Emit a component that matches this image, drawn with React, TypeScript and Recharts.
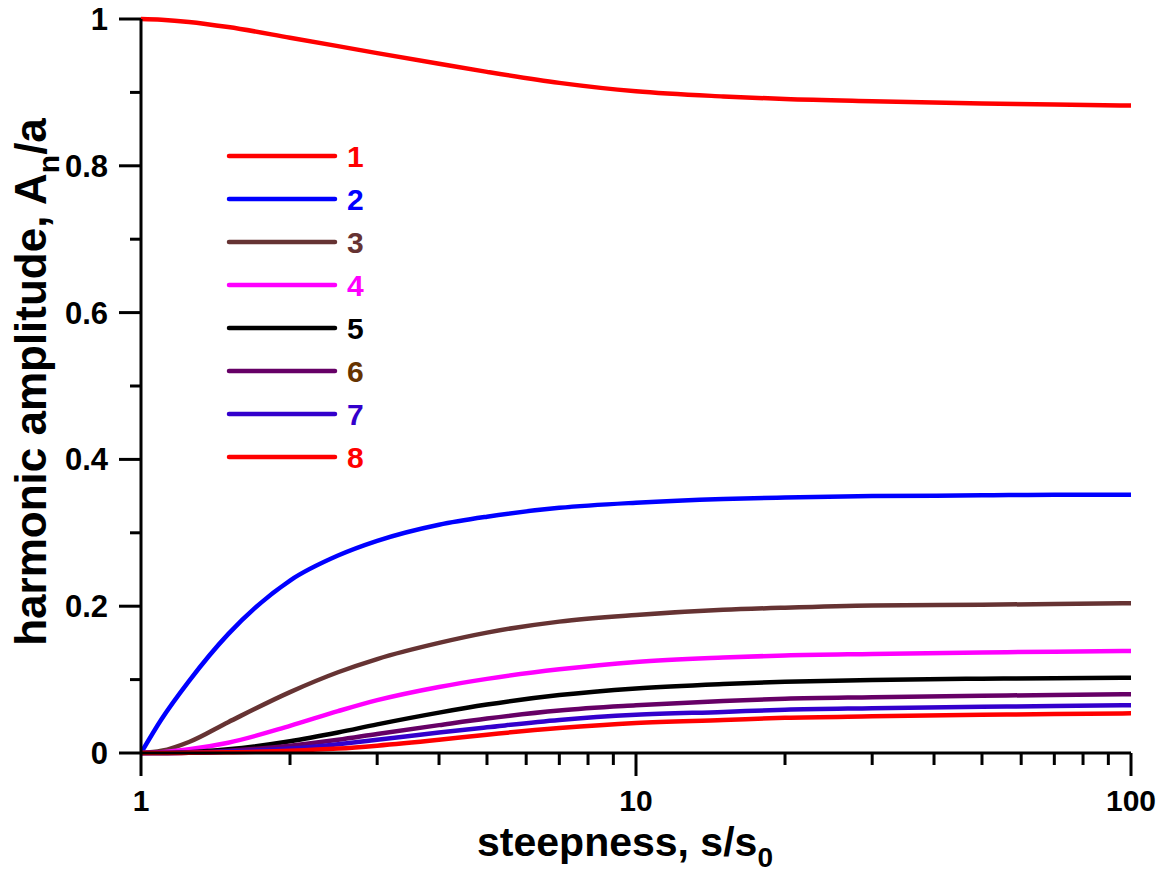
import { LineChart, Line, XAxis, YAxis, Legend, Label } from 'recharts';

if (typeof document !== 'undefined') document.body.style.margin = '0';

const FONT = '"Liberation Sans", Arial, sans-serif';

const steepness = [1, 1.1, 1.25, 1.5, 2, 2.5, 3, 4, 5, 7, 10, 15, 20, 30, 50, 70, 100];

const harmonic1 = [1.0, 0.999, 0.996, 0.989, 0.9745, 0.963, 0.9535, 0.939, 0.928, 0.913, 0.9015, 0.8945, 0.891, 0.888, 0.885, 0.8835, 0.882];
const harmonic2 = [0, 0.046, 0.098, 0.162, 0.235, 0.269, 0.289, 0.311, 0.322, 0.334, 0.341, 0.346, 0.348, 0.35, 0.351, 0.352, 0.352];
const harmonic3 = [0, 0.003, 0.015, 0.042, 0.083, 0.11, 0.128, 0.15, 0.164, 0.179, 0.188, 0.195, 0.198, 0.201, 0.202, 0.203, 0.204];
const harmonic4 = [0, 0.001, 0.005, 0.014, 0.037, 0.057, 0.072, 0.09, 0.101, 0.114, 0.124, 0.13, 0.133, 0.135, 0.137, 0.138, 0.139];
const harmonic5 = [0, 0, 0.001, 0.005, 0.016, 0.028, 0.039, 0.055, 0.066, 0.079, 0.088, 0.094, 0.097, 0.0995, 0.1012, 0.102, 0.1026];
const harmonic6 = [0, 0, 0.0005, 0.003, 0.01, 0.018, 0.026, 0.038, 0.047, 0.058, 0.065, 0.071, 0.074, 0.076, 0.078, 0.079, 0.08];
const harmonic7 = [0, 0, 0.0003, 0.002, 0.006, 0.012, 0.018, 0.028, 0.035, 0.045, 0.052, 0.056, 0.059, 0.061, 0.063, 0.064, 0.065];
const harmonic8 = [0, 0, 0.0002, 0.001, 0.003, 0.006, 0.01, 0.018, 0.025, 0.034, 0.041, 0.045, 0.048, 0.05, 0.052, 0.053, 0.054];

const seriesNames = ['1', '2', '3', '4', '5', '6', '7', '8'];
const lineColors = ['#ff0000', '#0000ff', '#663333', '#ff00ff', '#000000', '#660066', '#3300cc', '#ff0000'];
const labelColors = ['#ff0000', '#0000ff', '#663333', '#ff00ff', '#000000', '#663300', '#3300cc', '#ff0000'];

const xTicks = [1, 2, 3, 4, 5, 6, 7, 8, 9, 10, 20, 30, 40, 50, 60, 70, 80, 90, 100];
const xMajor = [1, 10, 100];
const yTicks = [0, 0.1, 0.2, 0.3, 0.4, 0.5, 0.6, 0.7, 0.8, 0.9, 1];
const yMajorLabels: Record<string, string> = { '0': '0', '0.2': '0.2', '0.4': '0.4', '0.6': '0.6', '0.8': '0.8', '1': '1' };

const allSeries = [harmonic1, harmonic2, harmonic3, harmonic4, harmonic5, harmonic6, harmonic7, harmonic8];
const rows = steepness.map((s, i) => {
  const row: Record<string, number> = { s };
  allSeries.forEach((arr, k) => {
    row[`h${k + 1}`] = arr[i];
  });
  return row;
});

function XTick({ x, y, payload }: any) {
  const major = xMajor.includes(payload.value);
  return (
    <g>
      <line x1={x} y1={y} x2={x} y2={y + (major ? 23 : 12)} stroke="#000" strokeWidth={3} />
      {major && (
        <text x={x} y={y + 58} textAnchor="middle" fontFamily={FONT} fontWeight="bold" fontSize={30} fill="#000">
          {payload.value}
        </text>
      )}
    </g>
  );
}

function YTick({ x, y, payload }: any) {
  const label = yMajorLabels[String(payload.value)];
  const major = label !== undefined;
  return (
    <g>
      <line x1={x - (major ? 22 : 11)} y1={y} x2={x} y2={y} stroke="#000" strokeWidth={3} />
      {major && (
        <text x={x - 33} y={y + 11} textAnchor="end" fontFamily={FONT} fontWeight="bold" fontSize={31} fill="#000">
          {label}
        </text>
      )}
    </g>
  );
}

function XTitle() {
  return (
    <text x={625} y={856} textAnchor="middle" fontFamily={FONT} fontWeight="bold" fontSize={41} fill="#000">
      steepness, s/s
      <tspan fontSize={28} dy={11}>0</tspan>
    </text>
  );
}

function YTitle() {
  return (
    <text
      x={0}
      y={0}
      transform="translate(46 382) rotate(-90)"
      textAnchor="middle"
      fontFamily={FONT}
      fontWeight="bold"
      fontSize={44}
      fill="#000"
    >
      harmonic amplitude, A
      <tspan fontSize={30} dy={13}>n</tspan>
      <tspan dy={-13}>/a</tspan>
    </text>
  );
}

function LegendBox() {
  return (
    <svg width={400} height={480} style={{ position: 'absolute', left: 0, top: 0, overflow: 'visible' }}>
      {seriesNames.map((name, i) => {
        const yy = 156 + i * 43;
        return (
          <g key={name}>
            <line x1={229} y1={yy} x2={335} y2={yy} stroke={lineColors[i]} strokeWidth={4.5} strokeLinecap="round" />
            <text x={347} y={yy + 11} fontFamily={FONT} fontWeight="bold" fontSize={30} fill={labelColors[i]}>
              {name}
            </text>
          </g>
        );
      })}
    </svg>
  );
}

export default function App() {
  return (
    <div style={{ width: 1168, height: 881, background: '#fff' }}>
      <LineChart width={1168} height={881} data={rows} margin={{ top: 19, right: 37, bottom: 0, left: 0 }}>
        <XAxis
          dataKey="s"
          type="number"
          scale="log"
          domain={[1, 100]}
          ticks={xTicks}
          interval={0}
          height={128}
          tickSize={0}
          tickMargin={0}
          tickLine={false}
          tick={<XTick />}
          axisLine={{ stroke: '#000', strokeWidth: 3 }}
          allowDataOverflow
        >
          <Label content={<XTitle />} />
        </XAxis>
        <YAxis
          type="number"
          domain={[0, 1]}
          ticks={yTicks}
          interval={0}
          width={141}
          tickSize={0}
          tickMargin={0}
          tickLine={false}
          tick={<YTick />}
          axisLine={{ stroke: '#000', strokeWidth: 3 }}
        >
          <Label content={<YTitle />} />
        </YAxis>
        <Legend
          layout="vertical"
          verticalAlign="middle"
          align="center"
          content={<LegendBox />}
          wrapperStyle={{ left: 0, top: 0, width: 400, height: 480 }}
        />
        {seriesNames.map((name, i) => (
          <Line
            key={name}
            dataKey={`h${i + 1}`}
            name={name}
            type="monotone"
            stroke={lineColors[i]}
            strokeWidth={4.5}
            strokeLinecap="round"
            dot={false}
            isAnimationActive={false}
          />
        ))}
      </LineChart>
    </div>
  );
}
